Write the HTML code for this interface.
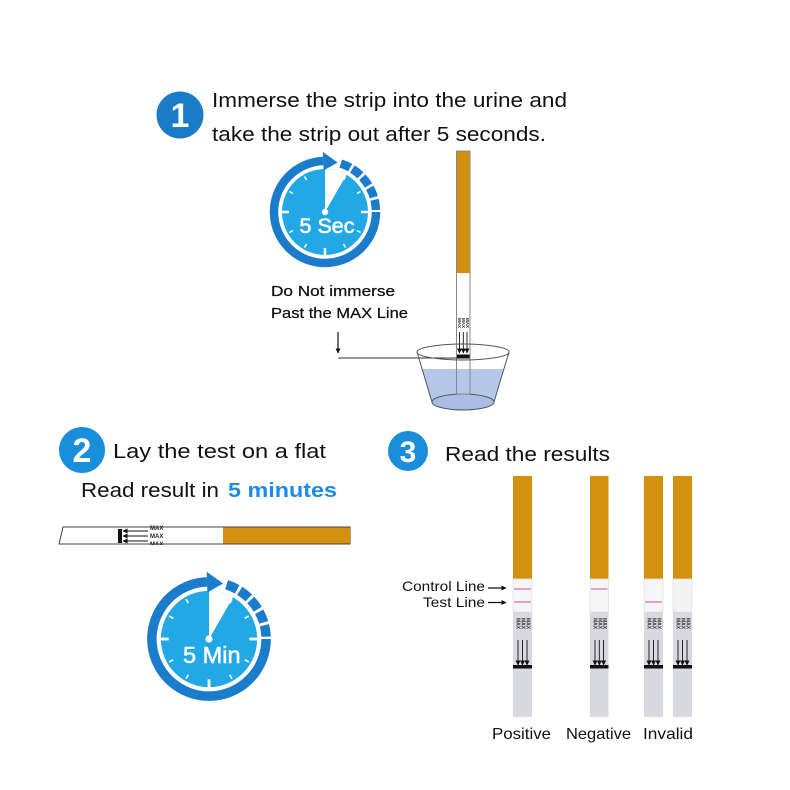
<!DOCTYPE html>
<html><head><meta charset="utf-8"><style>
html,body{margin:0;padding:0;background:#fff;}
svg{display:block;}
text{font-family:"Liberation Sans",sans-serif;}
</style></head><body>
<svg width="790" height="790" viewBox="0 0 790 790" xmlns="http://www.w3.org/2000/svg">
<defs>
<marker id="ah" viewBox="0 0 10 10" refX="9" refY="5" markerWidth="5" markerHeight="5" orient="auto" markerUnits="userSpaceOnUse"><path d="M0,0 L10,5 L0,10 z" fill="#111"/></marker>
<g id="clockbase">
 <circle r="43" fill="#22a9e5"/>
 <path d="M0,0 L0,-43 A43,43 0 0 1 21.5,-37.24 Z" fill="#fff"/>
 <g stroke="#fff" stroke-width="1.5">
  <line x1="18.5" y1="-32" x2="20.5" y2="-35.5"/>
  <line x1="32" y1="-18.5" x2="35.5" y2="-20.5"/>
  <line x1="32" y1="18.5" x2="35.5" y2="20.5"/>
  <line x1="18.5" y1="32" x2="20.5" y2="35.5"/>
  <line x1="-18.5" y1="32" x2="-20.5" y2="35.5"/>
  <line x1="-32" y1="18.5" x2="-35.5" y2="20.5"/>
  <line x1="-32" y1="-18.5" x2="-35.5" y2="-20.5"/>
  <line x1="-18.5" y1="-32" x2="-20.5" y2="-35.5"/>
 </g>
 <g stroke="#fff" stroke-width="2.5">
  <line x1="36" y1="0" x2="48" y2="0"/>
  <line x1="0" y1="36" x2="0" y2="48"/>
  <line x1="-36" y1="0" x2="-48" y2="0"/>
 </g>
 <circle r="3.2" fill="#fff"/>
 <path d="M51,0 A51,51 0 1 1 -1.78,-50.97" fill="none" stroke="#1a7ccb" stroke-width="8.5"/>
 <path d="M-1.47,-41.5 L-2.1,-60 L12.6,-49.5 Z" fill="#1a7ccb"/>
 <path d="M15.76,-48.5 A51,51 0 0 1 51,-1" fill="none" stroke="#1a7ccb" stroke-width="8.5" stroke-dasharray="10.3 2.6"/>
</g>
</defs>

<rect width="790" height="790" fill="#fff"/>

<!-- Step 1 -->
<circle cx="180" cy="115" r="23.5" fill="#1a7bc8"/>
<text x="180" y="127" font-size="34" font-weight="bold" fill="#fff" text-anchor="middle">1</text>
<text x="212" y="107" font-size="20" fill="#111" textLength="355" lengthAdjust="spacingAndGlyphs">Immerse the strip into the urine and</text>
<text x="212" y="141" font-size="20" fill="#111" textLength="334" lengthAdjust="spacingAndGlyphs">take the strip out after 5 seconds.</text>

<g transform="translate(325,212)">
 <use href="#clockbase"/>
 <text x="2" y="21" font-size="21.5" fill="#fff" stroke="#fff" stroke-width="0.6" text-anchor="middle">5 Sec</text>
</g>

<text x="271" y="296" font-size="15" fill="#111" stroke="#111" stroke-width="0.25" textLength="124" lengthAdjust="spacingAndGlyphs">Do Not immerse</text>
<text x="271" y="318" font-size="15" fill="#111" stroke="#111" stroke-width="0.25" textLength="137" lengthAdjust="spacingAndGlyphs">Past the MAX Line</text>
<line x1="338" y1="332" x2="338" y2="353" stroke="#111" stroke-width="1.2" marker-end="url(#ah)"/>

<!-- cup water -->
<polygon points="422,369 504,369 494,402 432,402" fill="#b6c8ea"/>
<ellipse cx="463" cy="402" rx="31" ry="8" fill="#a9bde6" stroke="#555" stroke-width="1"/>

<!-- top strip -->
<rect x="456.5" y="151" width="13.5" height="122" fill="#d4900f"/>
<rect x="456.5" y="273" width="13.5" height="96" fill="#fff"/>
<path d="M456.5,151 L456.5,394 L470,394 L470,151 Z" fill="none" stroke="#888" stroke-width="1"/>
<g font-size="4.5" font-weight="bold" fill="#222">
 <text transform="translate(458,318) rotate(90)">MAX</text>
 <text transform="translate(462,318) rotate(90)">MAX</text>
 <text transform="translate(466,318) rotate(90)">MAX</text>
</g>
<g stroke="#111" stroke-width="0.9">
 <line x1="459.5" y1="332" x2="459.5" y2="353" marker-end="url(#ah)"/>
 <line x1="463.3" y1="332" x2="463.3" y2="353" marker-end="url(#ah)"/>
 <line x1="467" y1="332" x2="467" y2="353" marker-end="url(#ah)"/>
</g>
<rect x="457" y="354.5" width="12.5" height="4" fill="#111"/>
<line x1="338" y1="358" x2="457" y2="358" stroke="#333" stroke-width="1"/>

<!-- cup outline -->
<ellipse cx="463" cy="352" rx="46" ry="8" fill="none" stroke="#555" stroke-width="1"/>
<line x1="417" y1="352" x2="432" y2="402" stroke="#555" stroke-width="1"/>
<line x1="509" y1="352" x2="494" y2="402" stroke="#555" stroke-width="1"/>

<!-- Step 2 -->
<circle cx="82" cy="450" r="23" fill="#1a8ddb"/>
<text x="82" y="462" font-size="34" font-weight="bold" fill="#fff" text-anchor="middle">2</text>
<text x="113" y="458" font-size="20" fill="#111" textLength="213" lengthAdjust="spacingAndGlyphs">Lay the test on a flat</text>
<text x="81" y="497" font-size="20" fill="#111" textLength="138" lengthAdjust="spacingAndGlyphs">Read result in</text>
<text x="228" y="497" font-size="20" font-weight="bold" fill="#1e8ae6" textLength="109" lengthAdjust="spacingAndGlyphs">5 minutes</text>

<polygon points="63,527 350,527 350,544 59,544" fill="#fff" stroke="#444" stroke-width="1"/>
<rect x="223" y="527.5" width="127" height="16" fill="#d4900f"/>
<rect x="118" y="529" width="4" height="14" fill="#111"/>
<g stroke="#111" stroke-width="0.9">
 <line x1="148" y1="531" x2="123" y2="531" marker-end="url(#ah)"/>
 <line x1="148" y1="536" x2="123" y2="536" marker-end="url(#ah)"/>
 <line x1="148" y1="541" x2="123" y2="541" marker-end="url(#ah)"/>
</g>
<g font-size="6" font-weight="bold" fill="#222">
 <text x="150" y="530">MAX</text>
 <text x="150" y="538">MAX</text>
 <text x="150" y="546">MAX</text>
</g>
<rect x="50" y="545" width="120" height="6" fill="#fff"/>

<g transform="translate(209,639) scale(1.12)">
 <use href="#clockbase"/>
 <text x="2.5" y="21.5" font-size="21" fill="#fff" stroke="#fff" stroke-width="0.5" text-anchor="middle">5 Min</text>
</g>

<!-- Step 3 -->
<circle cx="408" cy="451" r="20" fill="#1a8ddb"/>
<text x="408" y="462" font-size="30" font-weight="bold" fill="#fff" text-anchor="middle">3</text>
<text x="445" y="461" font-size="20" fill="#111" textLength="165" lengthAdjust="spacingAndGlyphs">Read the results</text>

<text x="402" y="591" font-size="14" fill="#111" textLength="83" lengthAdjust="spacingAndGlyphs">Control Line</text>
<text x="423" y="607" font-size="14" fill="#111" textLength="62" lengthAdjust="spacingAndGlyphs">Test Line</text>
<line x1="488" y1="588" x2="506" y2="588" stroke="#111" stroke-width="1.2" marker-end="url(#ah)"/>
<line x1="488" y1="602.5" x2="506" y2="602.5" stroke="#111" stroke-width="1.2" marker-end="url(#ah)"/>

<!-- strips -->
<g>
 <g transform="translate(513,0)">
  <rect x="0" y="476" width="19" height="103" fill="#d4900f"/>
  <rect x="0" y="579" width="19" height="33" fill="#f6f6f6" stroke="#e2e2e2" stroke-width="0.8"/>
  <rect x="0" y="612" width="19" height="105" fill="#d9d9e1"/>
  <line x1="1" y1="589" x2="18" y2="589" stroke="#d987c0" stroke-width="1.6"/>
  <line x1="1" y1="602" x2="18" y2="602" stroke="#d987c0" stroke-width="1.6"/>
  <g font-size="5" font-weight="bold" fill="#333">
   <text transform="translate(3.5,618) rotate(90)">MAX</text>
   <text transform="translate(8.5,618) rotate(90)">MAX</text>
   <text transform="translate(13.5,618) rotate(90)">MAX</text>
  </g>
  <g stroke="#111" stroke-width="0.9">
   <line x1="5" y1="640" x2="5" y2="665" marker-end="url(#ah)"/>
   <line x1="9.5" y1="640" x2="9.5" y2="665" marker-end="url(#ah)"/>
   <line x1="14" y1="640" x2="14" y2="665" marker-end="url(#ah)"/>
  </g>
  <rect x="0" y="665" width="19" height="3.5" fill="#111"/>
 </g>
 <g transform="translate(590,0)">
  <rect x="0" y="476" width="18.5" height="103" fill="#d4900f"/>
  <rect x="0" y="579" width="18.5" height="33" fill="#f6f6f6" stroke="#e2e2e2" stroke-width="0.8"/>
  <rect x="0" y="612" width="18.5" height="105" fill="#d9d9e1"/>
  <line x1="1" y1="589" x2="17.5" y2="589" stroke="#d987c0" stroke-width="1.6"/>
  <g font-size="5" font-weight="bold" fill="#333">
   <text transform="translate(3.5,618) rotate(90)">MAX</text>
   <text transform="translate(8.3,618) rotate(90)">MAX</text>
   <text transform="translate(13.1,618) rotate(90)">MAX</text>
  </g>
  <g stroke="#111" stroke-width="0.9">
   <line x1="5" y1="640" x2="5" y2="665" marker-end="url(#ah)"/>
   <line x1="9.3" y1="640" x2="9.3" y2="665" marker-end="url(#ah)"/>
   <line x1="13.6" y1="640" x2="13.6" y2="665" marker-end="url(#ah)"/>
  </g>
  <rect x="0" y="665" width="18.5" height="3.5" fill="#111"/>
 </g>
 <g transform="translate(644,0)">
  <rect x="0" y="476" width="19" height="103" fill="#d4900f"/>
  <rect x="0" y="579" width="19" height="33" fill="#f6f6f6" stroke="#e2e2e2" stroke-width="0.8"/>
  <rect x="0" y="612" width="19" height="105" fill="#d9d9e1"/>
  <line x1="1" y1="602" x2="18" y2="602" stroke="#d987c0" stroke-width="1.6"/>
  <g font-size="5" font-weight="bold" fill="#333">
   <text transform="translate(3.5,618) rotate(90)">MAX</text>
   <text transform="translate(8.5,618) rotate(90)">MAX</text>
   <text transform="translate(13.5,618) rotate(90)">MAX</text>
  </g>
  <g stroke="#111" stroke-width="0.9">
   <line x1="5" y1="640" x2="5" y2="665" marker-end="url(#ah)"/>
   <line x1="9.5" y1="640" x2="9.5" y2="665" marker-end="url(#ah)"/>
   <line x1="14" y1="640" x2="14" y2="665" marker-end="url(#ah)"/>
  </g>
  <rect x="0" y="665" width="19" height="3.5" fill="#111"/>
 </g>
 <g transform="translate(673,0)">
  <rect x="0" y="476" width="19" height="103" fill="#d4900f"/>
  <rect x="0" y="579" width="19" height="33" fill="#f3f3f3" stroke="#e2e2e2" stroke-width="0.8"/>
  <rect x="0" y="612" width="19" height="105" fill="#d9d9e1"/>
  <g font-size="5" font-weight="bold" fill="#333">
   <text transform="translate(3.5,618) rotate(90)">MAX</text>
   <text transform="translate(8.5,618) rotate(90)">MAX</text>
   <text transform="translate(13.5,618) rotate(90)">MAX</text>
  </g>
  <g stroke="#111" stroke-width="0.9">
   <line x1="5" y1="640" x2="5" y2="665" marker-end="url(#ah)"/>
   <line x1="9.5" y1="640" x2="9.5" y2="665" marker-end="url(#ah)"/>
   <line x1="14" y1="640" x2="14" y2="665" marker-end="url(#ah)"/>
  </g>
  <rect x="0" y="665" width="19" height="3.5" fill="#111"/>
 </g>
</g>

<text x="492" y="739" font-size="16" fill="#111" textLength="59" lengthAdjust="spacingAndGlyphs">Positive</text>
<text x="566" y="739" font-size="16" fill="#111" textLength="65" lengthAdjust="spacingAndGlyphs">Negative</text>
<text x="643" y="739" font-size="16" fill="#111" textLength="50" lengthAdjust="spacingAndGlyphs">Invalid</text>
</svg>
</body></html>
